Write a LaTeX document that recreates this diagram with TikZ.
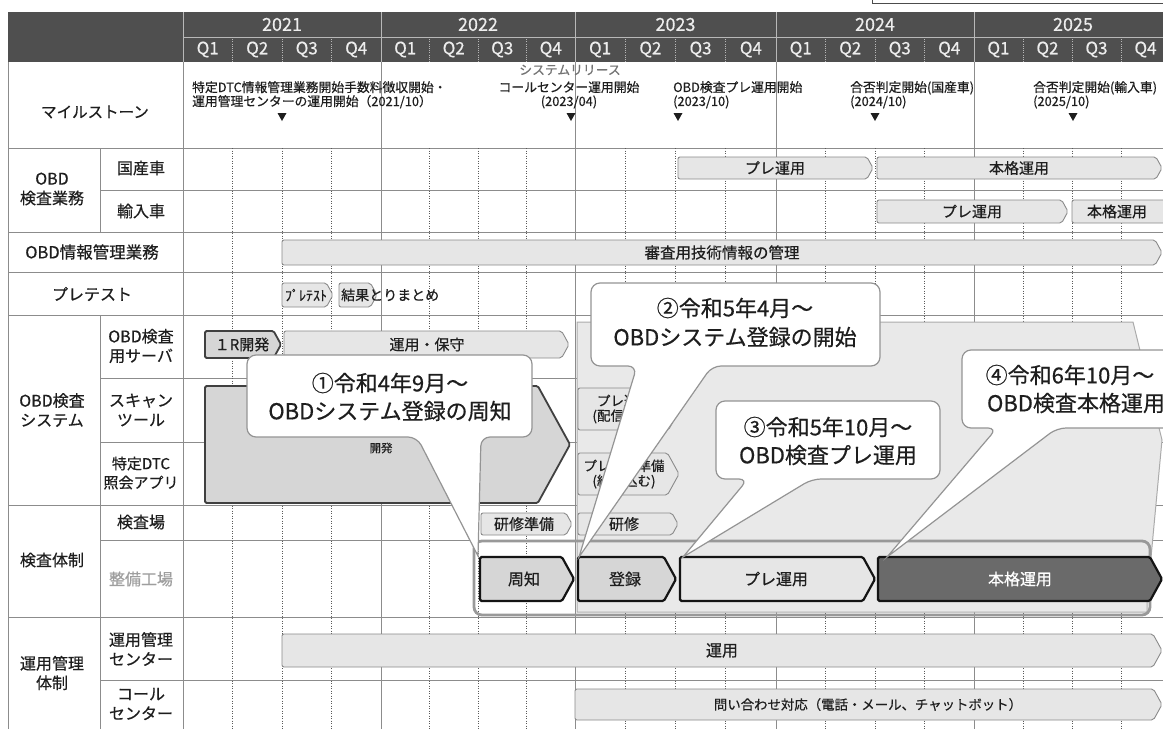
\documentclass[tikz,border=0pt]{standalone}
\usepackage{fontspec}
\setmainfont{Noto Sans CJK JP}[FakeBold=0.5]
\definecolor{hdr}{HTML}{4F4F4F}
\definecolor{hdrline}{HTML}{B8B8B8}
\definecolor{hdrtxt}{HTML}{EDEDED}
\definecolor{gridc}{HTML}{8C8C8C}
\definecolor{dotc}{HTML}{5A5A5A}
\definecolor{barfill}{HTML}{E6E6E6}
\definecolor{barline}{HTML}{8A8A8A}
\definecolor{darkfill}{HTML}{6A6A6A}
\definecolor{midfill}{HTML}{D6D6D6}
\definecolor{ovl}{HTML}{E9E9E9}
\definecolor{ovlline}{HTML}{ABABAB}
\definecolor{txt}{HTML}{1E1E1E}
\newcommand\chev[5]{\draw[#1] (#2,#4) -- ({#3-0.275*(#5-#4)},#4) -- (#3,{(#4+#5)/2}) -- ({#3-0.275*(#5-#4)},#5) -- (#2,#5) -- cycle;}
\newcommand\callout[8]{\draw[callbox] (#1,{(#3+#4)/2}) [rounded corners=9] -- (#1,#3) -- (#2,#3) -- (#2,#4) -- (#6,#4) [sharp corners] -- (#7,#8) [rounded corners=9] -- (#5,#4) -- (#1,#4) -- cycle;}
\newcommand\mtri[1]{\fill[txt] ({#1-4.5},113) -- ({#1+4.5},113) -- (#1,121) -- cycle;}
\begin{document}
\begin{tikzpicture}[x=1pt,y=-1pt,
  lbl/.style={font=\fontsize{16}{19.5}\selectfont, align=center, text=txt, inner sep=0},
  mtxt/.style={font=\fontsize{12.8}{14}\selectfont, align=left, inner sep=0, text=txt},
  bartxt/.style={font=\fontsize{15}{16}\selectfont, inner sep=0, text=txt, align=center},
  bar/.style={fill=barfill, draw=barline, line width=0.9, rounded corners=2},
  thickbar/.style={fill=midfill, draw=black!75, line width=1.8, rounded corners=1.5},
  blackbar/.style={fill=midfill, draw=black!92, line width=2.2, rounded corners=1.5},
  callbox/.style={fill=white, draw=black!42, line width=1.2},
  calltxt/.style={font=\fontsize{22}{25}\selectfont, inner sep=0, text=txt, align=center},
  gridl/.style={draw=gridc, line width=0.8},
  dotl/.style={draw=dotc, line width=0.7, dash pattern=on 1.2pt off 1.3pt}
]
\useasboundingbox (0,0) rectangle (1163,729);
\fill[white] (0,0) rectangle (1163,729);
% ---------- grid ----------
\foreach \y in {148,232,272,315,505,617} \draw[gridl] (8,\y) -- (1163,\y);
\foreach \y in {190,378,442,540,680} \draw[gridl] (100,\y) -- (1163,\y);
\draw[gridl] (8,12) -- (8,729);
\draw[gridl] (100,148) -- (100,232);
\draw[gridl] (100,315) -- (100,729);
\foreach \x in {183,381,575,776,974} \draw[gridl] (\x,62) -- (\x,729);
\foreach \x in {232.5,282,331.5,429.5,478,526.5,625.25,675.5,725.75,825.5,875,924.5,1023,1072,1121}
  \draw[dotl] (\x,148) -- (\x,729);
% ---------- overlay and frame ----------
\draw[fill=ovl, draw=ovlline, line width=1] (577,322) -- (1133,322) -- (1162,440) -- (1147,600) -- (1147,612) -- (577,612) -- cycle;
\draw[draw=black!40, line width=2.8, rounded corners=8] (474,541) rectangle (1150,615);
% ---------- milestones ----------
\node[mtxt, anchor=north west] (m1) at (192,81) {特定DTC情報管理業務開始手数料徴収開始・\\運用管理センターの運用開始（2021/10）};
\node[mtxt, text=black!55] (m2a) at (570,70) {システムリリース};
\node[mtxt, align=center, anchor=north] (m2) at (569,81) {コールセンター運用開始\\(2023/04)};
\node[mtxt, anchor=north west] (m3) at (673,81) {OBD検査プレ運用開始\\(2023/10)};
\node[mtxt, anchor=north west] (m4) at (850,81) {合否判定開始(国産車)\\(2024/10)};
\node[mtxt, anchor=north west] (m5) at (1033,81) {合否判定開始(輸入車)\\(2025/10)};
\mtri{282}\mtri{571}\mtri{678}\mtri{875}\mtri{1073}
% ---------- left labels ----------
\node[lbl, font=\fontsize{15.5}{18}\selectfont] (lms) at (95,112) {マイルストーン};
\node[lbl] (lobd) at (52,189) {OBD\\検査業務};
\node[lbl] (lkoku) at (141,168) {国産車};
\node[lbl] (lyu) at (141,211) {輸入車};
\node[lbl, font=\fontsize{16.5}{19}\selectfont] (linfo) at (92,252) {OBD情報管理業務};
\node[lbl] (lpre) at (92,294) {プレテスト};
\node[lbl] (lsys) at (52,410) {OBD検査\\システム};
\node[lbl] (lsrv) at (141,346) {OBD検査\\用サーバ};
\node[lbl] (lscan) at (141,410) {スキャン\\ツール};
\node[lbl, font=\fontsize{15}{19}\selectfont] (ldtc) at (141,473) {特定DTC\\照会アプリ};
\node[lbl] (lkt) at (52,560) {検査体制};
\node[lbl] (lkj) at (141,522) {検査場};
\node[lbl, text=black!38] (lsb) at (141,579) {整備工場};
\node[lbl] (lun) at (52,673) {運用管理\\体制};
\node[lbl] (lumc) at (141,649) {運用管理\\センター};
\node[lbl] (lcc) at (141,704) {コール\\センター};
% ---------- bars ----------
\chev{bar}{678}{873}{157}{179}
\node[bartxt] (b1) at (775,168) {プレ運用};
\chev{bar}{877}{1162}{157}{179}
\node[bartxt] (b2) at (1019,168) {本格運用};
\chev{bar}{877}{1068}{200}{223}
\node[bartxt] (b3) at (972,211.5) {プレ運用};
\chev{bar}{1072}{1178}{200}{223}
\node[bartxt] (b4) at (1117,211.5) {本格運用};
\chev{bar}{282}{1162}{240}{265}
\node[bartxt, font=\fontsize{15.5}{17}\selectfont] (b5) at (722,252.5) {審査用技術情報の管理};
\chev{bar}{282}{333}{283}{307}
\node[bartxt, font=\fontsize{14}{15}\selectfont] (b6) at (306,295) {ﾌﾟﾚﾃｽﾄ};
\chev{bar}{339}{377}{283}{307}
\node[bartxt, font=\fontsize{14}{15}\selectfont, anchor=west] (b7) at (341,295) {結果とりまとめ};
\chev{thickbar}{205}{281}{331}{358}
\node[bartxt] (b8) at (242,344.5) {１R開発};
\chev{bar}{284}{569}{331}{358}
\node[bartxt] (b9) at (427,344.5) {運用・保守};
\chev{thickbar}{205}{570}{386}{503}
\node[bartxt, font=\fontsize{11.5}{12}\selectfont] (b10) at (381,448) {開発};
\chev{bar}{578}{680}{388}{430}
\node[bartxt, font=\fontsize{13.5}{15}\selectfont] (b11) at (624,409) {プレ運用\\(配信含む)};
\chev{bar}{578}{679}{453}{495}
\node[bartxt, font=\fontsize{13.5}{15}\selectfont] (b12) at (624,474) {プレ運用準備\\(組み込む)};
\chev{bar}{481}{572}{513}{535}
\node[bartxt] (b13) at (524,524) {研修準備};
\chev{bar}{578}{678}{513}{535}
\node[bartxt] (b14) at (624,524) {研修};
\chev{bar}{282}{1162}{634}{667}
\node[bartxt, font=\fontsize{16}{17}\selectfont] (b15) at (722,650.5) {運用};
\chev{bar}{575}{1162}{689}{720}
\node[bartxt, font=\fontsize{13.4}{15}\selectfont] (b16) at (868,704.5) {問い合わせ対応（電話・メール、チャットボット）};
% ---------- 整備工場 row ----------
\chev{blackbar}{480}{574}{557}{601}
\node[bartxt, font=\fontsize{16}{17}\selectfont] (s1) at (524,579) {周知};
\chev{blackbar}{578}{676}{557}{601}
\node[bartxt, font=\fontsize{16}{17}\selectfont] (s2) at (625,579) {登録};
\chev{blackbar, fill=barfill}{680}{875}{557}{601}
\node[bartxt, font=\fontsize{16}{17}\selectfont] (s3) at (776,579) {プレ運用};
\chev{blackbar, fill=darkfill}{878}{1162}{557}{601}
\node[bartxt, font=\fontsize{16}{17}\selectfont, text=white] (s4) at (1020,579) {本格運用};
% ---------- callouts ----------
\callout{247}{532}{355}{437}{417}{481}{478}{556}
\node[calltxt] (c1a) at (390,383) {①令和4年9月～};
\node[calltxt] (c1b) at (390,411) {OBDシステム登録の周知};
\callout{591}{880}{283}{366}{637}{712}{579}{557}
\node[calltxt] (c2a) at (735,308) {②令和5年4月～};
\node[calltxt] (c2b) at (735,337) {OBDシステム登録の開始};
\callout{716}{940}{401}{479}{748}{812}{683}{557}
\node[calltxt] (c3a) at (828,427) {③令和5年10月～};
\node[calltxt] (c3b) at (828,455) {OBD検査プレ運用};
\callout{962}{1185}{350}{428}{997}{1057}{887}{557}
\node[calltxt] (c4a) at (1070,375) {④令和6年10月～};
\node[calltxt] (c4b) at (1076,403) {OBD検査本格運用};
% ---------- header ----------
\fill[hdr] (8,12) rectangle (1163,62);
\draw[hdrline, line width=1] (183,37) -- (1163,37);
\foreach \x in {183,381,575,776,974} \draw[hdrline, line width=1] (\x,12) -- (\x,62);
\foreach \x in {232.5,282,331.5,429.5,478,526.5,625.25,675.5,725.75,825.5,875,924.5,1023,1072,1121}
  \draw[hdrline, line width=0.6, dash pattern=on 1pt off 1.2pt] (\x,37) -- (\x,62);
\foreach \a/\b/\yr in {183/381/2021,381/575/2022,575/776/2023,776/974/2024,974/1172/2025}
  \node[text=hdrtxt, font=\fontsize{18}{20}\selectfont, inner sep=0] (yr\yr) at ({(\a+\b)/2},24.5) {\yr};
\foreach \x/\q [count=\i] in {207.75/1,257.25/2,306.75/3,356.25/4,405.25/1,453.75/2,502.25/3,550.75/4,600.1/1,650.4/2,700.6/3,750.9/4,800.75/1,850.25/2,899.75/3,949.25/4,998.5/1,1047.5/2,1096.5/3,1145.5/4}
  \node[text=hdrtxt, font=\fontsize{17}{19}\selectfont, inner sep=0] (q\i) at (\x,49.5) {Q\q};
\draw[black!70, line width=0.8] (872,-2) -- (872,3) -- (1170,3);
\end{tikzpicture}
\end{document}
